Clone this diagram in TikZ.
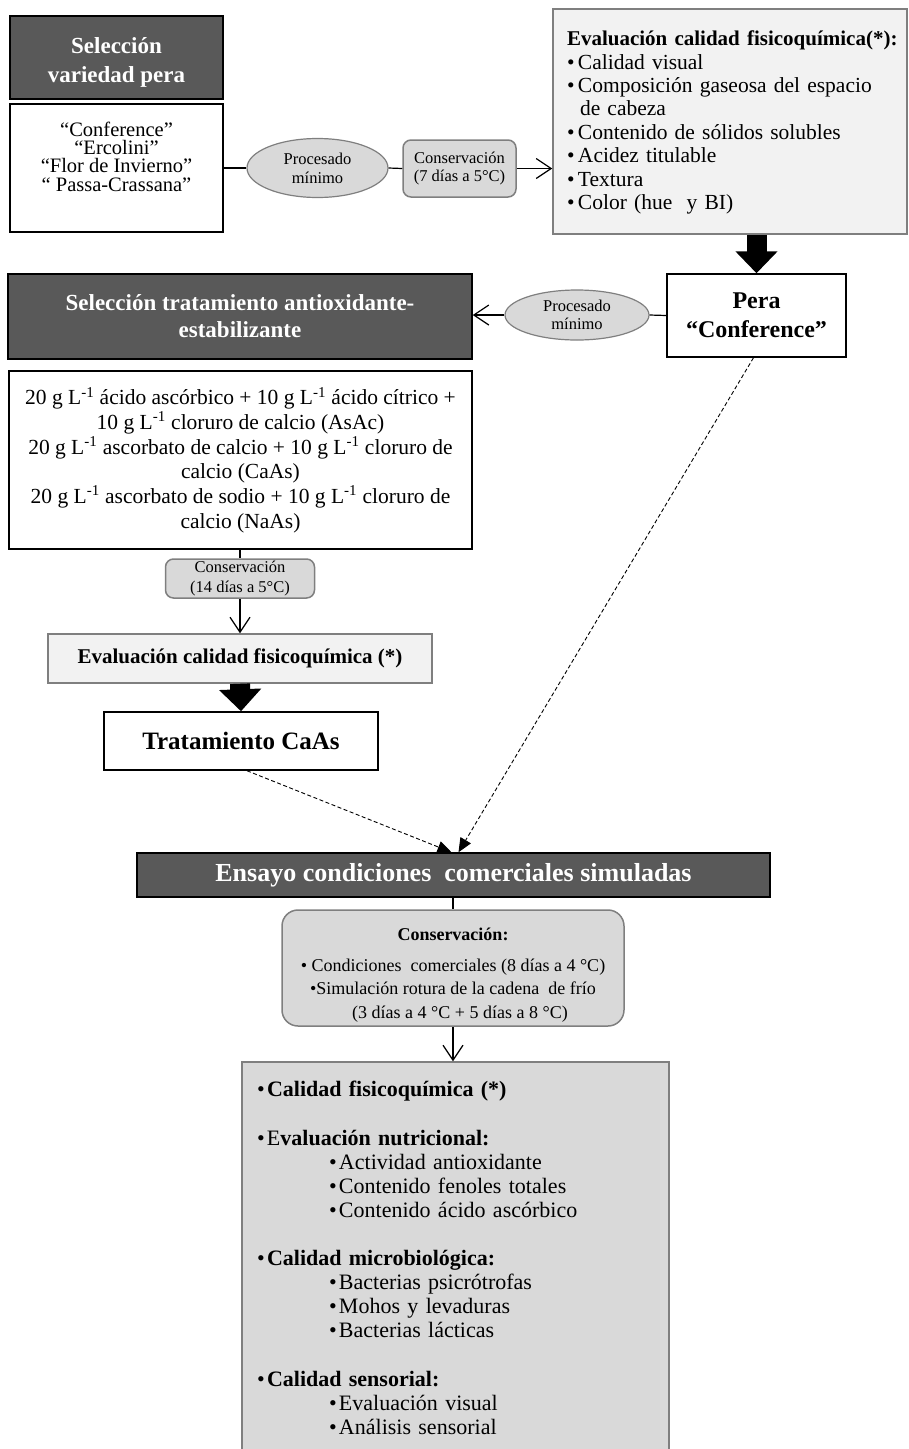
\documentclass[tikz,border=0pt]{standalone}
\usepackage{fontspec}
\setmainfont{Liberation Serif}
\usetikzlibrary{arrows.meta,shapes.geometric}
\definecolor{darkbox}{HTML}{595959}
\definecolor{lightfill}{HTML}{F2F2F2}
\definecolor{midfill}{HTML}{D9D9D9}
\definecolor{grayline}{HTML}{7F7F7F}
\newcommand{\fsz}[2]{\fontsize{#1}{#2}\selectfont}
\newcommand{\bulA}{\makebox[11pt][l]{\textbullet}}
\newcommand{\bulB}{\makebox[10pt][l]{\textbullet}}
\newcommand{\topstrut}[1]{\rule{0pt}{#1}}
\newcommand{\botstrut}[1]{\rule[-#1]{0pt}{1pt}}
\begin{document}
\begin{tikzpicture}[x=1pt,y=-1pt,
  darkstyle/.style={draw=black, line width=1.5pt, fill=darkbox, text=white, inner sep=0pt, align=center},
  whitestyle/.style={draw=black, line width=1.5pt, fill=white, inner sep=0pt, align=center},
  lightstyle/.style={draw=grayline, line width=1.5pt, fill=lightfill, inner sep=0pt},
  midstyle/.style={draw=grayline, line width=1.5pt, fill=midfill, inner sep=0pt},
  roundstyle/.style={draw=grayline, line width=1.5pt, fill=midfill, rounded corners=8pt, inner sep=0pt, align=center},
  ellstyle/.style={ellipse, draw=grayline, line width=1.2pt, fill=midfill, inner sep=0pt, align=center},
  plainline/.style={line width=1.2pt, draw=black},
  openarrow/.style={line width=1.2pt, -{Straight Barb[length=15pt,width=20pt,line width=1.2pt]}},
  blockarrow/.style={line width=20pt, draw=black, -{Triangle[length=22pt,width=41pt]}},
  dasharrow/.style={line width=0.9pt, dash pattern=on 4pt off 2.5pt, -{Triangle[length=14pt,width=12pt]}}
]
\useasboundingbox (0,0) rectangle (909,1449);

% top row
\node[darkstyle, minimum width=213, minimum height=83, font=\fsz{23}{29}\bfseries] (sel1) at (116.5,57.5) {\topstrut{26pt}Selección\\variedad pera};
\node[whitestyle, minimum width=213, minimum height=128, font=\fsz{20.5}{18.4}] (vars) at (116.5,168) {“Conference”\\“Ercolini”\\“Flor de Invierno”\\“ Passa-Crassana”\botstrut{23pt}};
\node[ellstyle, minimum width=141, minimum height=59, font=\fsz{16.5}{19}] (proc1) at (317.5,168) {Procesado\\mínimo};
\node[roundstyle, minimum width=113, minimum height=57, font=\fsz{16.5}{18.5}] (cons1) at (459.5,168.5) {Conservación\\(7 días a 5°C)};
\node[lightstyle, minimum width=354, minimum height=225, text width=326, inner xsep=14pt, align=left, font=\fsz{21.5}{23.4}] (eval1) at (730,121.5) {\topstrut{17pt}\mbox{\fontsize{21}{23.4}\selectfont\bfseries Evaluación calidad fisicoquímica(*):}\\
\bulA Calidad visual\\
\bulA Composición gaseosa del espacio\\
\hspace*{13pt}de cabeza\\
\bulA Contenido de sólidos solubles\\
\bulA Acidez titulable\\
\bulA Textura\\
\bulA Color (hue\ \ y BI)};

% second row
\node[whitestyle, minimum width=179, minimum height=83, font=\fsz{24}{29}\bfseries] (pera) at (756.5,315.5) {Pera\\“Conference”};
\node[ellstyle, minimum width=144, minimum height=50, font=\fsz{16.5}{18}] (proc2) at (577,315) {Procesado\\mínimo};
\node[darkstyle, minimum width=464, minimum height=85, font=\fsz{23}{27}\bfseries] (sel2) at (240,316.5) {Selección tratamiento antioxidante-\\estabilizante};

\node[whitestyle, minimum width=463, minimum height=178, font=\fsz{21.5}{24.7}] (treat) at (240.5,460) {20 g L\textsuperscript{-1} ácido ascórbico + 10 g L\textsuperscript{-1} ácido cítrico +\\
10 g L\textsuperscript{-1} cloruro de calcio (AsAc)\\
20 g L\textsuperscript{-1} ascorbato de calcio + 10 g L\textsuperscript{-1} cloruro de\\
calcio (CaAs)\\
20 g L\textsuperscript{-1} ascorbato de sodio + 10 g L\textsuperscript{-1} cloruro de\\
calcio (NaAs)};

\node[roundstyle, minimum width=149, minimum height=39, font=\fsz{16.5}{20}] (cons2) at (240,578.5) {Conservación\\(14 días a 5°C)};
\node[lightstyle, minimum width=384, minimum height=49, font=\fsz{21}{24}\bfseries] (eval2) at (240,658.5) {Evaluación calidad fisicoquímica (*)};
\node[whitestyle, minimum width=274, minimum height=58, font=\fsz{25}{29}\bfseries] (caas) at (241,741) {Tratamiento CaAs};

% bottom part
\node[darkstyle, minimum width=633, minimum height=44, font=\fsz{26}{30}\bfseries] (ensayo) at (453.5,875) {Ensayo condiciones\ \ comerciales simuladas};
\node[roundstyle, rounded corners=16pt, minimum width=342, minimum height=116, font=\fsz{18}{23.5}] (cons3) at (453,968) {\topstrut{26.5pt}\textbf{Conservación:}\\[7pt]
\textbullet\ Condiciones\ \ comerciales (8 días a 4 °C)\\
\textbullet Simulación rotura de la cadena\ \ de frío\\
\hspace*{14pt}(3 días a 4 °C + 5 días a 8 °C)};
\node[midstyle, minimum width=427, minimum height=388.5, text width=397, inner xsep=15pt, align=left, font=\fsz{22}{24.1}] (final) at (455.5,1256.25) {\topstrut{19pt}\bulB\textbf{Calidad fisicoquímica (*)}\\
\mbox{}\\
\bulB E\textbf{valuación nutricional:}\\
\hspace*{72pt}\bulB Actividad antioxidante\\
\hspace*{72pt}\bulB Contenido fenoles totales\\
\hspace*{72pt}\bulB Contenido ácido ascórbico\\
\mbox{}\\
\bulB\textbf{Calidad microbiológica:}\\
\hspace*{72pt}\bulB Bacterias psicrótrofas\\
\hspace*{72pt}\bulB Mohos y levaduras\\
\hspace*{72pt}\bulB Bacterias lácticas\\
\mbox{}\\
\bulB\textbf{Calidad sensorial:}\\
\hspace*{72pt}\bulB Evaluación visual\\
\hspace*{72pt}\bulB Análisis sensorial};

% connectors
\draw[plainline] (vars.east |- proc1.west) -- (proc1.west);
\draw[plainline] (proc1.east) -- (cons1.west);
\draw[openarrow] (cons1.east) -- (cons1.east -| eval1.west);
\draw[blockarrow] (eval1.south -| pera.north) -- (pera.north);
\draw[plainline] (pera.west) -- (proc2.east);
\draw[openarrow] (proc2.west) -- (proc2.west -| sel2.east);
\draw[plainline] (cons2.north |- treat.south) -- (cons2.north);
\draw[openarrow] (cons2.south) -- (eval2.north);
\draw[blockarrow] (eval2.south) -- (caas.north);
\draw[dasharrow] ([xshift=-3pt]pera.south) -- ([xshift=5pt]ensayo.north);
\draw[dasharrow] ([xshift=6pt]caas.south) -- ([xshift=-2pt]ensayo.north);
\draw[plainline] (cons3.north |- ensayo.south) -- (cons3.north);
\draw[openarrow] (cons3.south) -- (cons3.south |- final.north);
\end{tikzpicture}
\end{document}
